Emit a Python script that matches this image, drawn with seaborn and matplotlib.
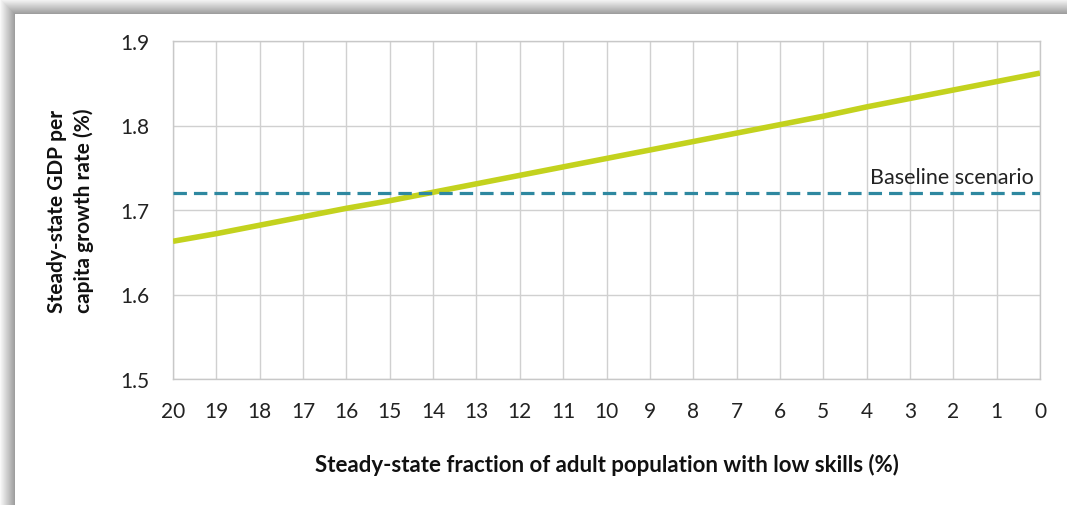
import numpy as np
import pandas as pd
import matplotlib.pyplot as plt
import seaborn as sns

sns.set_theme(style="whitegrid")
plt.rcParams['font.family'] = ['Lato', 'DejaVu Sans']

# Data
low_skill_share = [20, 19, 18, 17, 16, 15, 14, 13, 12, 11, 10, 9, 8, 7, 6, 5, 4, 3, 2, 1, 0]
gdp_growth = [1.663, 1.672, 1.682, 1.692, 1.702, 1.711, 1.721, 1.731, 1.741, 1.751, 1.761,
              1.771, 1.781, 1.791, 1.801, 1.811, 1.822, 1.832, 1.842, 1.852, 1.862]
baseline = 1.72
y_ticks = [1.5, 1.6, 1.7, 1.8, 1.9]

df = pd.DataFrame({"share": low_skill_share, "growth": gdp_growth})

fig = plt.figure(figsize=(10.67, 5.06), dpi=100)
fig.patch.set_facecolor("white")

# Shadowed frame around the chart (like an exported Excel chart)
bg = fig.add_axes([0, 0, 1, 1], zorder=-10)
W, H = 1067, 506
img = np.ones((H, W))
edge = 15
ramp = np.linspace(0.97, 0.62, edge)
for i in range(edge):
    img[i:, i] = np.minimum(img[i:, i], ramp[i])
    img[i, i:] = np.minimum(img[i, i:], ramp[i])
img[:edge, :edge] = np.minimum(img[:edge, :edge], 0.97)
bg.imshow(img, cmap="gray", vmin=0, vmax=1, aspect="auto", interpolation="bilinear")
bg.set_axis_off()

ax = fig.add_axes([173 / W, 1 - 380 / H, (1040 - 173) / W, (380 - 42) / H])
ax.set_facecolor("white")

sns.lineplot(data=df, x="share", y="growth", ax=ax, color="#C3D21E", linewidth=4.0,
             solid_capstyle="butt", zorder=3)
ax.axhline(baseline, color="#2E88A0", linewidth=2.3, linestyle=(0, (4.2, 2.2)), zorder=4)
ax.text(0.15, baseline + 0.007, "Baseline scenario", ha="right", va="bottom",
        fontsize=15.5, color="#222222")

ax.set_xlim(20, 0)
ax.set_ylim(1.5, 1.9)
ax.set_xticks(low_skill_share)
ax.set_xticklabels([str(v) for v in low_skill_share])
ax.set_yticks(y_ticks)
ax.set_yticklabels([f"{v:.1f}" for v in y_ticks])
ax.tick_params(axis="both", labelsize=15, colors="#222222", length=0)
ax.tick_params(axis="x", pad=16)
ax.tick_params(axis="y", pad=17)

ax.grid(True, color="#D0D0D0", linewidth=1.0)
for s in ax.spines.values():
    s.set_color("#C8C8C8")
    s.set_linewidth(1.0)

ax.set_xlabel("Steady-state fraction of adult population with low skills (%)",
              fontsize=16, fontweight="bold", color="#111111", labelpad=23)
ax.set_ylabel("Steady-state GDP per\ncapita growth rate (%)",
              fontsize=15, fontweight="bold", color="#111111", labelpad=19,
              linespacing=1.35)

fig.savefig("out.png", dpi=100)
